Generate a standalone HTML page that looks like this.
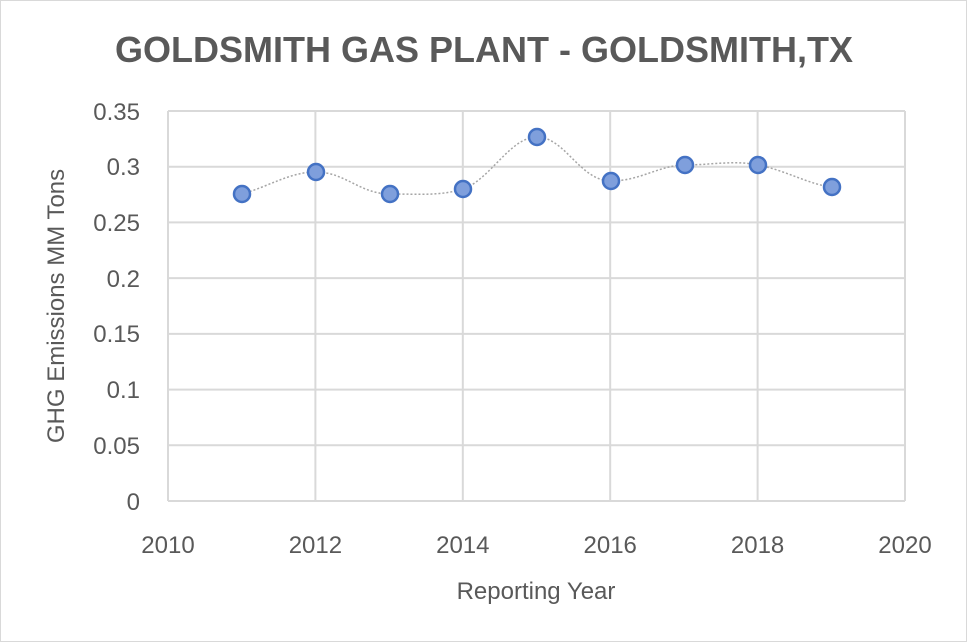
<!DOCTYPE html>
<html><head><style>body{margin:0;background:#fff}svg{display:block}</style></head>
<body>
<svg width="968" height="643" xmlns="http://www.w3.org/2000/svg" font-family="Liberation Sans, sans-serif">
<rect x="0.5" y="0.5" width="966" height="641" fill="#fff" stroke="#d9d9d9"/>
<text x="484" y="62" text-anchor="middle" font-size="36" font-weight="bold" fill="#595959">GOLDSMITH GAS PLANT - GOLDSMITH,TX</text>
<g stroke="#d9d9d9" stroke-width="2" fill="none">
<line x1="168" y1="111" x2="905" y2="111"/>
<line x1="168" y1="166.7" x2="905" y2="166.7"/>
<line x1="168" y1="222.4" x2="905" y2="222.4"/>
<line x1="168" y1="278.1" x2="905" y2="278.1"/>
<line x1="168" y1="333.9" x2="905" y2="333.9"/>
<line x1="168" y1="389.6" x2="905" y2="389.6"/>
<line x1="168" y1="445.3" x2="905" y2="445.3"/>
<line x1="168" y1="501" x2="905" y2="501"/>
<line x1="168" y1="111" x2="168" y2="501"/>
<line x1="315.4" y1="111" x2="315.4" y2="501"/>
<line x1="462.8" y1="111" x2="462.8" y2="501"/>
<line x1="610.2" y1="111" x2="610.2" y2="501"/>
<line x1="757.6" y1="111" x2="757.6" y2="501"/>
<line x1="905" y1="111" x2="905" y2="501"/>
</g>
<g font-size="24" fill="#595959" text-anchor="end">
<text x="140" y="120">0.35</text><text x="140" y="175">0.3</text><text x="140" y="231">0.25</text>
<text x="140" y="287">0.2</text><text x="140" y="342">0.15</text><text x="140" y="398">0.1</text>
<text x="140" y="454">0.05</text><text x="140" y="510">0</text>
</g>
<g font-size="24" fill="#595959" text-anchor="middle">
<text x="168" y="553">2010</text><text x="315.4" y="553">2012</text><text x="462.8" y="553">2014</text>
<text x="610.2" y="553">2016</text><text x="757.6" y="553">2018</text><text x="905" y="553">2020</text>
<text x="536" y="599">Reporting Year</text>
</g>
<text transform="translate(64,306) rotate(-90)" font-size="24" fill="#595959" text-anchor="middle">GHG Emissions MM Tons</text>
<path d="M242,194 C270,186 290,172 316,172 C345,172 360,194 390,194 C420,194 440,196 463,189 C490,180 510,137 537,137 C565,137 580,181 611,181 C640,181 660,165 685,165 C710,165 735,160 758,165 C785,170 810,185 832,187" fill="none" stroke="#a6a6a6" stroke-width="1.5" stroke-dasharray="2,2"/>
<g fill="#7f9fdc" stroke="#4472c4" stroke-width="2.5">
<circle cx="242" cy="194" r="8"/><circle cx="316" cy="172" r="8"/><circle cx="390" cy="194" r="8"/>
<circle cx="463" cy="189" r="8"/><circle cx="537" cy="137" r="8"/><circle cx="611" cy="181" r="8"/>
<circle cx="685" cy="165" r="8"/><circle cx="758" cy="165" r="8"/><circle cx="832" cy="187" r="8"/>
</g>
</svg>
</body></html>
